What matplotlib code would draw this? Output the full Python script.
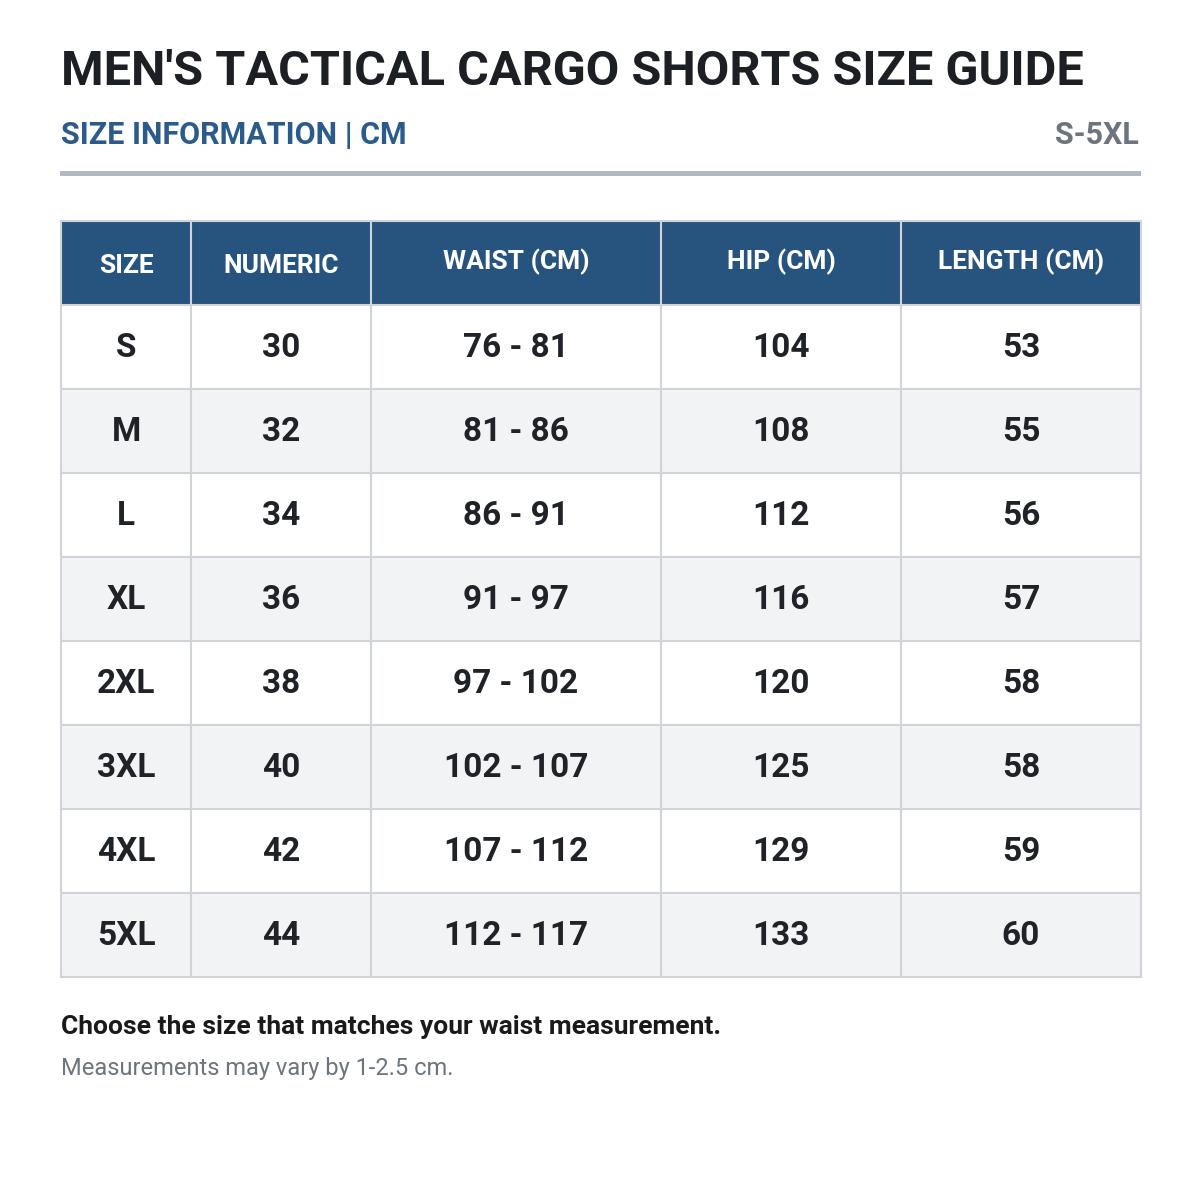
import matplotlib
matplotlib.use("Agg")
import matplotlib.pyplot as plt
from matplotlib.patches import Rectangle

title = "MEN'S TACTICAL CARGO SHORTS SIZE GUIDE"
subtitle = "SIZE INFORMATION | CM"
size_range = "S-5XL"
headers = ["SIZE", "NUMERIC", "WAIST (CM)", "HIP (CM)", "LENGTH (CM)"]
sizes = ["S", "M", "L", "XL", "2XL", "3XL", "4XL", "5XL"]
numeric = ["30", "32", "34", "36", "38", "40", "42", "44"]
waist = ["76 - 81", "81 - 86", "86 - 91", "91 - 97", "97 - 102", "102 - 107", "107 - 112", "112 - 117"]
hip = ["104", "108", "112", "116", "120", "125", "129", "133"]
length = ["53", "55", "56", "57", "58", "58", "59", "60"]
note1 = "Choose the size that matches your waist measurement."
note2 = "Measurements may vary by 1-2.5 cm."

plt.rcParams['font.family'] = ['Roboto', 'DejaVu Sans']
fig = plt.figure(figsize=(12, 12), dpi=100)
ax = fig.add_axes([0, 0, 1, 1])
ax.set_xlim(0, 1200); ax.set_ylim(1200, 0); ax.axis('off')

ax.text(61, 72, title, fontsize=35, fontweight='bold', color='#1c1f24', va='center', ha='left')
ax.text(61, 135, subtitle, fontsize=22, fontweight='bold', color='#2b5b8a', va='center', ha='left')
ax.text(1139, 135, size_range, fontsize=22, fontweight='bold', color='#6c757d', va='center', ha='right')
ax.add_patch(Rectangle((60, 171), 1081, 5, color='#b0b8c1', lw=0))

cols = [61, 191, 371, 661, 901, 1141]
top, hh, rh = 221, 84, 84
grid = '#d0d4d9'
ax.add_patch(Rectangle((cols[0], top), cols[-1]-cols[0], hh, facecolor='#27547f', edgecolor='none'))
for j, h in enumerate(headers):
    cx = (cols[j]+cols[j+1])/2
    ax.text(cx, top+hh/2+(3 if j in (0, 1) else -1), h, fontsize=19, fontweight='bold', color='white', ha='center', va='center')
data = list(zip(sizes, numeric, waist, hip, length))
for i, row in enumerate(data):
    y0 = top+hh+i*rh
    ax.add_patch(Rectangle((cols[0], y0), cols[-1]-cols[0], rh, facecolor='white' if i % 2 == 0 else '#f2f3f5', edgecolor='none'))
    for j, v in enumerate(row):
        cx = (cols[j]+cols[j+1])/2
        ax.text(cx, y0+rh/2+1, v, fontsize=24, fontweight='bold', color='#1f2328', ha='center', va='center')
bottom = top+hh+len(data)*rh
for x in cols:
    ax.plot([x, x], [top, bottom], color=grid, lw=1.5)
for k in range(len(data)+2):
    y = top+hh+(k-1)*rh if k > 0 else top
    ax.plot([cols[0], cols[-1]], [y, y], color=grid, lw=1.5)
ax.text(61, 1027, note1, fontsize=19, fontweight='bold', color='#1a1a1a', ha='left', va='center')
ax.text(61, 1069, note2, fontsize=17, color='#6c757d', ha='left', va='center')
fig.savefig('out.png', dpi=100)
